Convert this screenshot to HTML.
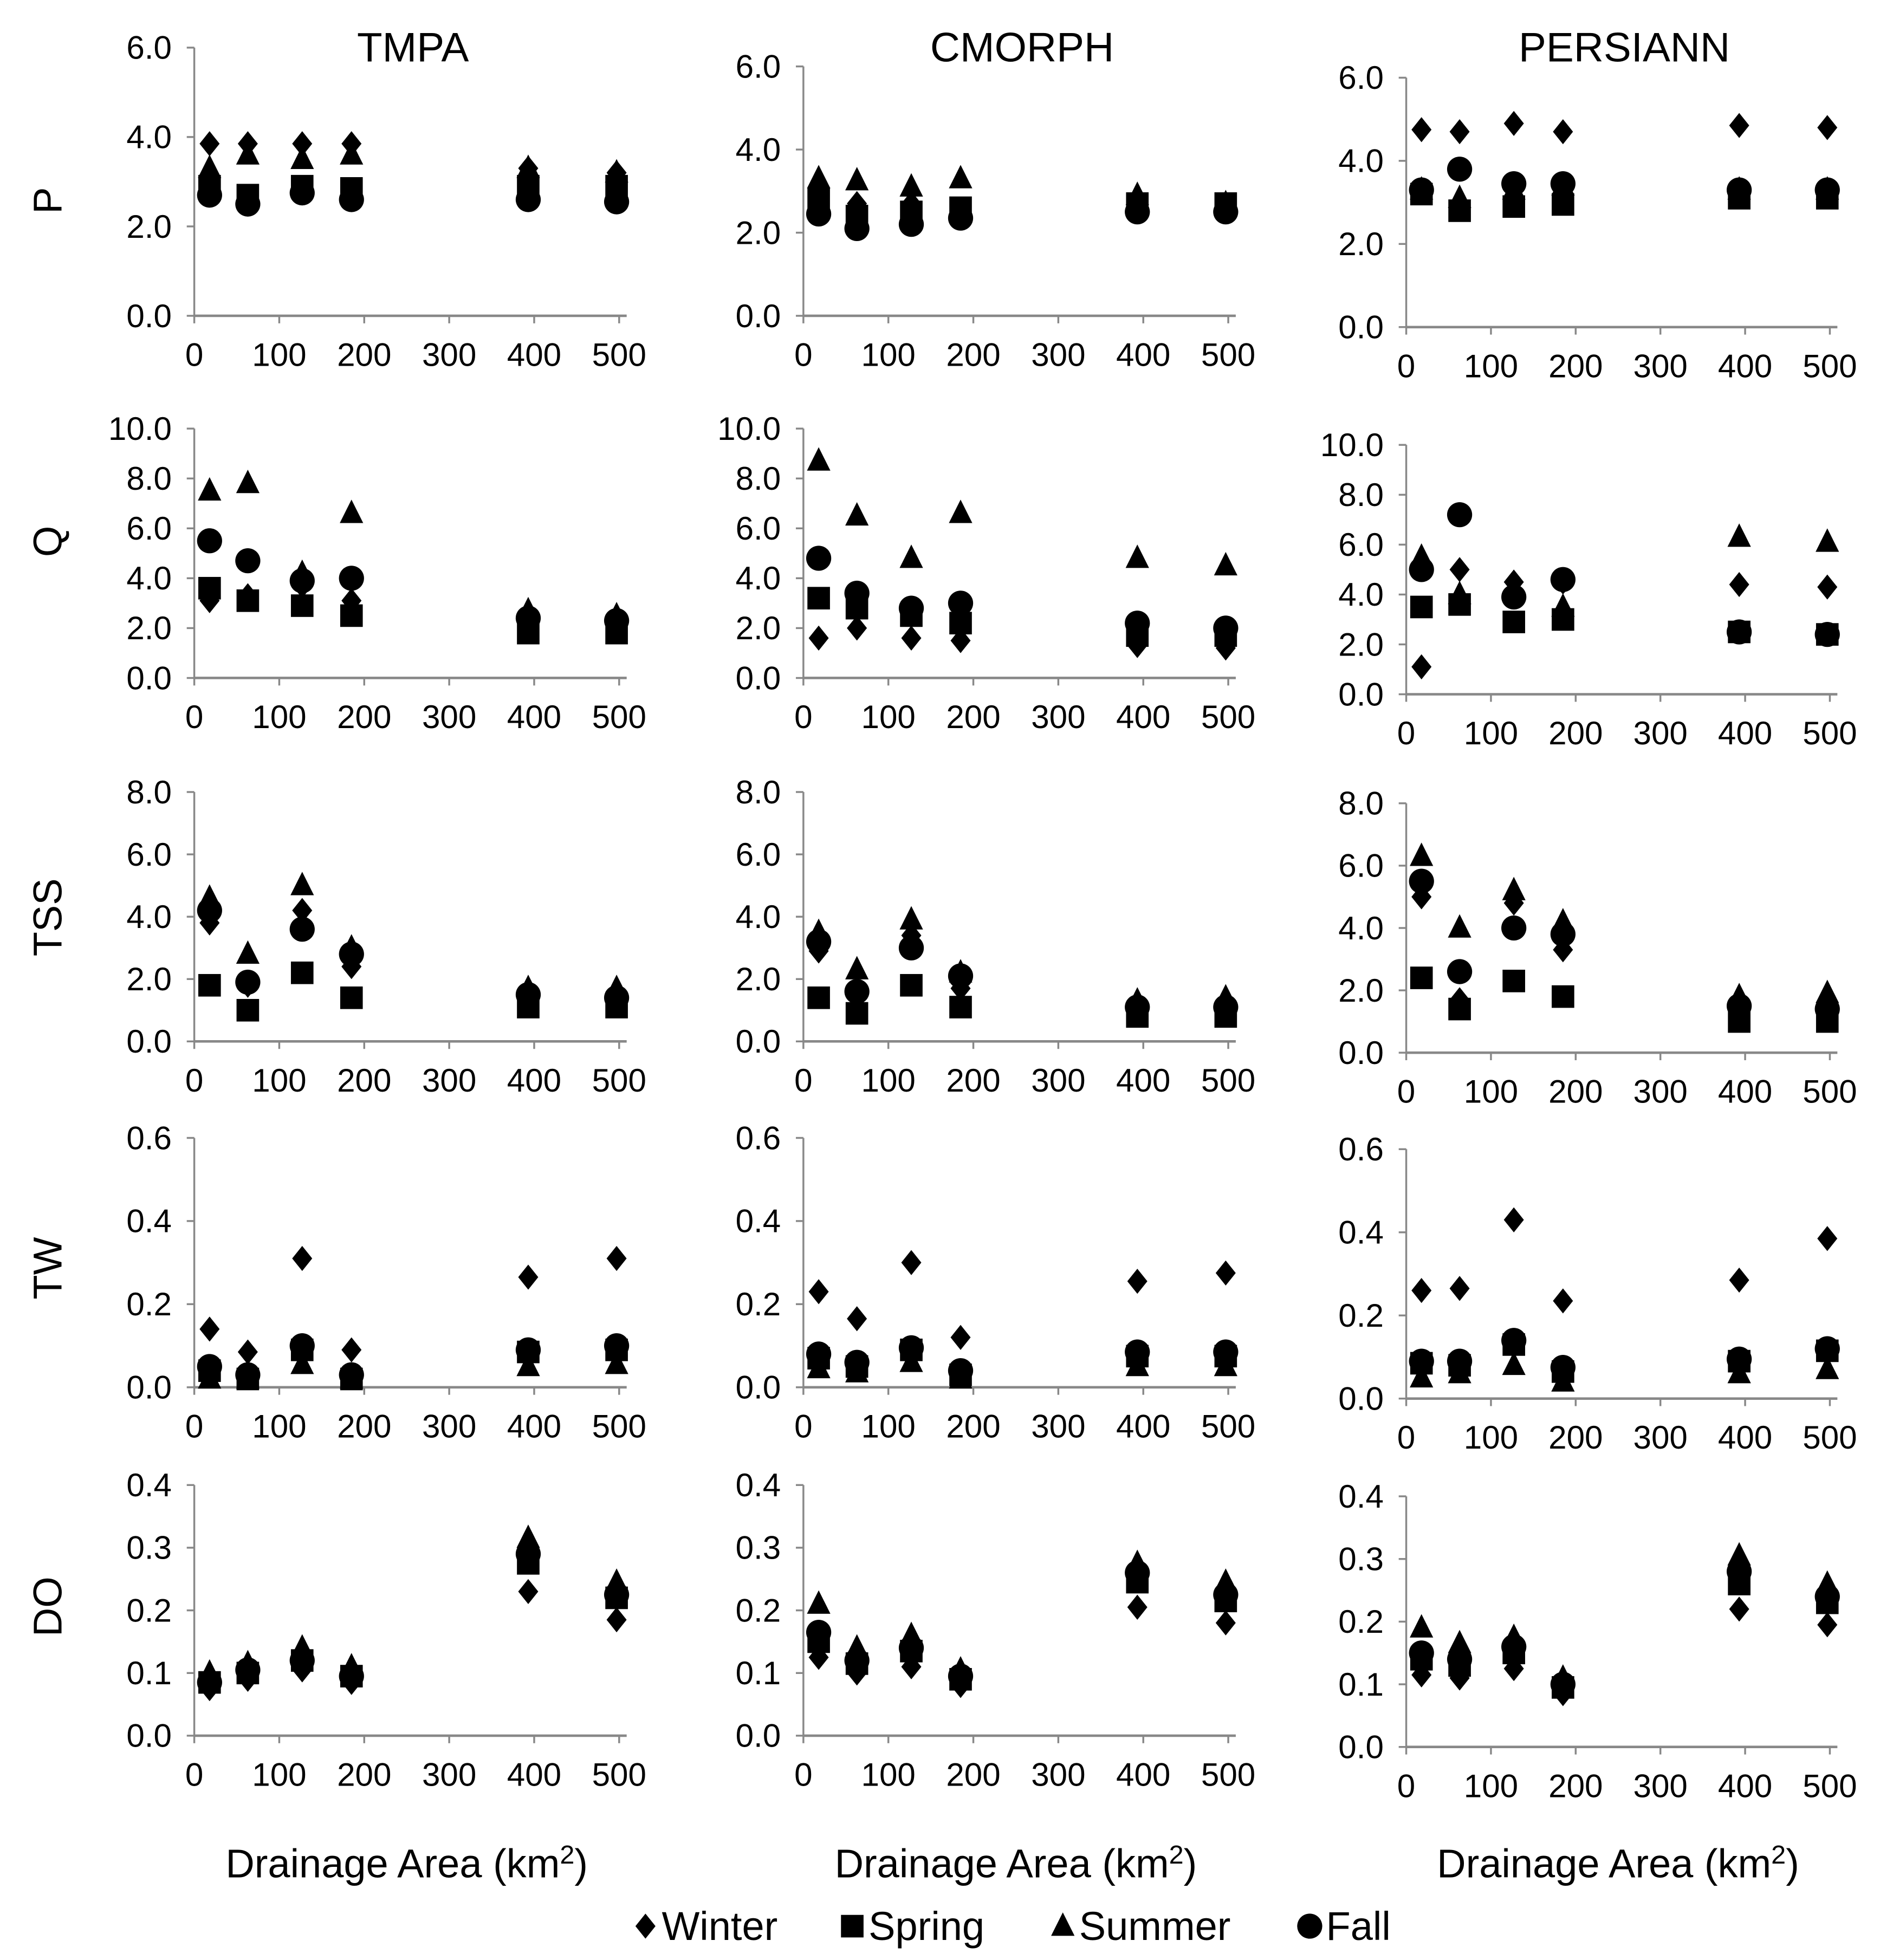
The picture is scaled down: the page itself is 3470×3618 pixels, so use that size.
<!DOCTYPE html>
<html><head><meta charset="utf-8"><style>
html,body{margin:0;padding:0;background:#fff}
svg{display:block}
text{font-family:"Liberation Sans",Arial,sans-serif;fill:#000}
</style></head><body>
<svg id="chart" width="3470" height="3618" viewBox="0 0 1500 1564" xmlns="http://www.w3.org/2000/svg"></svg>
<script>
const sites = [18, 63, 127, 185, 393, 497];
const seasons = ["Winter", "Spring", "Summer", "Fall"];
const xTicks = [0, 100, 200, 300, 400, 500];
const products = ["TMPA", "CMORPH", "PERSIANN"];
const variables = ["P", "Q", "TSS", "TW", "DO"];
const yMaxes = [6, 10, 8, 0.6, 0.4];
const yStepsP = [0, 2, 4, 6];
const yStepsQ = [0, 2, 4, 6, 8, 10];
const yStepsTSS = [0, 2, 4, 6, 8];
const yStepsTW = [0, 0.2, 0.4, 0.6];
const yStepsDO = [0, 0.1, 0.2, 0.3, 0.4];
const yDecimals = [1, 1, 1, 1, 1];

// [winter, spring, summer, fall]
const TMPA_P = [[3.85,3.85,3.85,3.85,3.3,3.2],[2.9,2.7,2.9,2.85,2.9,2.9],[3.3,3.6,3.5,3.6,3.3,3.2],[2.7,2.5,2.75,2.6,2.6,2.55]];
const CMORPH_P = [[2.6,2.7,2.7,2.5,2.6,2.5],[2.8,2.4,2.5,2.6,2.7,2.7],[3.3,3.25,3.1,3.3,2.9,2.7],[2.45,2.1,2.2,2.35,2.5,2.5]];
const PERSIANN_P = [[4.75,4.7,4.9,4.7,4.85,4.8],[3.2,2.8,2.9,2.95,3.1,3.1],[3.3,3.1,3.3,3.4,3.3,3.3],[3.3,3.8,3.45,3.45,3.3,3.3]];
const TMPA_Q = [[3.1,3.3,3.7,3.1,2.5,2.4],[3.6,3.1,2.9,2.5,1.8,1.8],[7.5,7.8,4.2,6.6,2.7,2.5],[5.5,4.7,3.9,4.0,2.4,2.3]];
const CMORPH_Q = [[1.6,2.0,1.6,1.5,1.3,1.2],[3.2,2.8,2.5,2.2,1.7,1.7],[8.7,6.5,4.8,6.6,4.8,4.5],[4.8,3.4,2.8,3.0,2.2,2.0]];
const PERSIANN_Q = [[1.1,5.0,4.5,4.5,4.4,4.3],[3.5,3.6,2.9,3.0,2.5,2.4],[5.5,4.0,4.2,3.5,6.3,6.1],[5.0,7.2,3.9,4.6,2.5,2.4]];
const TMPA_TSS = [[3.8,1.8,4.2,2.4,1.3,1.3],[1.8,1.0,2.2,1.4,1.1,1.1],[4.6,2.8,5.0,3.0,1.7,1.7],[4.2,1.9,3.6,2.8,1.5,1.4]];
const CMORPH_TSS = [[2.9,1.6,3.4,1.7,1.0,1.0],[1.4,0.9,1.8,1.1,0.8,0.8],[3.5,2.3,3.9,2.2,1.3,1.4],[3.2,1.6,3.0,2.1,1.1,1.1]];
const PERSIANN_TSS = [[5.0,1.7,4.8,3.3,1.4,1.3],[2.4,1.4,2.3,1.8,1.0,1.0],[6.3,4.0,5.2,4.2,1.8,1.9],[5.5,2.6,4.0,3.8,1.5,1.4]];
const TMPA_TW = [[0.14,0.085,0.31,0.09,0.265,0.31],[0.04,0.02,0.09,0.02,0.085,0.09],[0.02,0.02,0.055,0.02,0.05,0.055],[0.05,0.03,0.10,0.03,0.09,0.10]];
const CMORPH_TW = [[0.23,0.165,0.30,0.12,0.255,0.275],[0.07,0.05,0.09,0.03,0.075,0.075],[0.045,0.035,0.06,0.02,0.05,0.05],[0.08,0.06,0.095,0.04,0.085,0.085]];
const PERSIANN_TW = [[0.26,0.265,0.43,0.235,0.285,0.385],[0.085,0.08,0.13,0.065,0.09,0.115],[0.05,0.06,0.08,0.04,0.06,0.07],[0.09,0.09,0.14,0.075,0.095,0.12]];
const TMPA_DO = [[0.075,0.09,0.105,0.085,0.23,0.185],[0.085,0.10,0.12,0.095,0.275,0.22],[0.10,0.115,0.14,0.11,0.315,0.245],[0.085,0.105,0.12,0.095,0.29,0.225]];
const CMORPH_DO = [[0.125,0.10,0.11,0.08,0.205,0.18],[0.15,0.115,0.135,0.09,0.245,0.215],[0.21,0.14,0.16,0.105,0.275,0.245],[0.165,0.12,0.14,0.095,0.26,0.225]];
const PERSIANN_DO = [[0.115,0.11,0.125,0.085,0.22,0.195],[0.14,0.13,0.15,0.095,0.26,0.23],[0.19,0.165,0.175,0.11,0.305,0.26],[0.15,0.14,0.16,0.1,0.28,0.24]];

const panelData = [
  [TMPA_P, CMORPH_P, PERSIANN_P],
  [TMPA_Q, CMORPH_Q, PERSIANN_Q],
  [TMPA_TSS, CMORPH_TSS, PERSIANN_TSS],
  [TMPA_TW, CMORPH_TW, PERSIANN_TW],
  [TMPA_DO, CMORPH_DO, PERSIANN_DO]
];
const yTickSets = [yStepsP, yStepsQ, yStepsTSS, yStepsTW, yStepsDO];

const colX0 = [155, 641, 1122];
const colX1 = [494, 980, 1460];
const rowTop = [[38,342,632,908,1185],[53,342,632,908,1185],[62,355,641,917,1194]];
const rowBot = [[252,541,831,1107,1385],[252,541,831,1107,1385],[261,554,840,1116,1394]];

const NS = "http://www.w3.org/2000/svg";
const svg = document.getElementById("chart");
function mk(tag, attrs, parent) {
  const e = document.createElementNS(NS, tag);
  for (const k in attrs) e.setAttribute(k, attrs[k]);
  (parent || svg).appendChild(e);
  return e;
}

function marker(g, season, cx, cy) {
  let e;
  if (season === 0) {
    const s = 10;
    e = mk("polygon", {points: `${cx},${cy-s} ${cx+s*0.8},${cy} ${cx},${cy+s} ${cx-s*0.8},${cy}`, fill: "#000"}, g);
  } else if (season === 1) {
    const s = 9;
    e = mk("rect", {x: cx-s, y: cy-s, width: 2*s, height: 2*s, fill: "#000"}, g);
  } else if (season === 2) {
    const s = 11;
    e = mk("polygon", {points: `${cx},${cy-s} ${cx+s*0.85},${cy+s*0.7} ${cx-s*0.85},${cy+s*0.7}`, fill: "#000"}, g);
  } else {
    e = mk("circle", {cx: cx, cy: cy, r: 10, fill: "#000"}, g);
  }
  return e;
}

for (let c = 0; c < 3; c++) {
  const t = mk("text", {x: (colX0[c]+colX1[c])/2 + 5, y: 49, "font-size": 33, "text-anchor": "middle"});
  t.textContent = products[c];
  
  
  for (let r = 0; r < 5; r++) {
    const x0 = colX0[c], x1 = colX1[c], yT = rowTop[c][r], yB = rowBot[c][r];
    const xs = v => x0 + (v / 500) * (x1 - x0);
    const ys = v => yB - (v / yMaxes[r]) * (yB - yT);
    const g = mk("g", {});
    
    
    const ya = mk("line", {x1: x0, y1: yT, x2: x0, y2: yB, stroke: "#888", "stroke-width": 1.5}, g);
    
    
    const xa = mk("line", {x1: x0, y1: yB, x2: x1 + 6, y2: yB, stroke: "#888", "stroke-width": 2}, g);
    
    
    yTickSets[r].forEach(v => {
      const y = ys(v);
      mk("line", {x1: x0 - 6, y1: y, x2: x0, y2: y, stroke: "#888", "stroke-width": 1.5}, g);
      const tl = mk("text", {x: x0 - 18, y: y + 9, "font-size": 26, "text-anchor": "end"}, g);
      tl.textContent = v.toFixed(yDecimals[r]);
      
      
    });
    xTicks.forEach(v => {
      const x = xs(v);
      mk("line", {x1: x, y1: yB, x2: x, y2: yB + 6, stroke: "#888", "stroke-width": 1.5}, g);
      const tl = mk("text", {x: x, y: yB + 40, "font-size": 26, "text-anchor": "middle"}, g);
      tl.textContent = String(v);
      
      
    });
    const d = panelData[r][c];
    for (let s = 0; s < 4; s++) {
      d[s].forEach((v, i) => {
        const m = marker(g, s, xs(sites[i]), ys(v));
        
        
      });
    }
  }
  const at = mk("text", {x: (colX0[c]+colX1[c])/2, y: 1498, "font-size": 32, "text-anchor": "middle"});
  at.innerHTML = 'Drainage Area (km<tspan dy="-11" font-size="21">2</tspan><tspan dy="11">)</tspan>';
  
  
}

const rowLabelY = [160, 432, 732, 1012, 1282];
variables.forEach((v, r) => {
  const t = mk("text", {x: 0, y: 0, "font-size": 32, "text-anchor": "middle", transform: `translate(49,${rowLabelY[r]}) rotate(-90)`});
  t.textContent = v;
  
  
});

const legendX = [515, 680, 848, 1045];
const lg = mk("g", {});


seasons.forEach((s, i) => {
  const e = mk("g", {}, lg);
  
  
  marker(e, i, legendX[i], 1537);
  const t = mk("text", {x: legendX[i] + 13, y: 1548, "font-size": 32}, e);
  t.textContent = s;
});
</script>
</body></html>
